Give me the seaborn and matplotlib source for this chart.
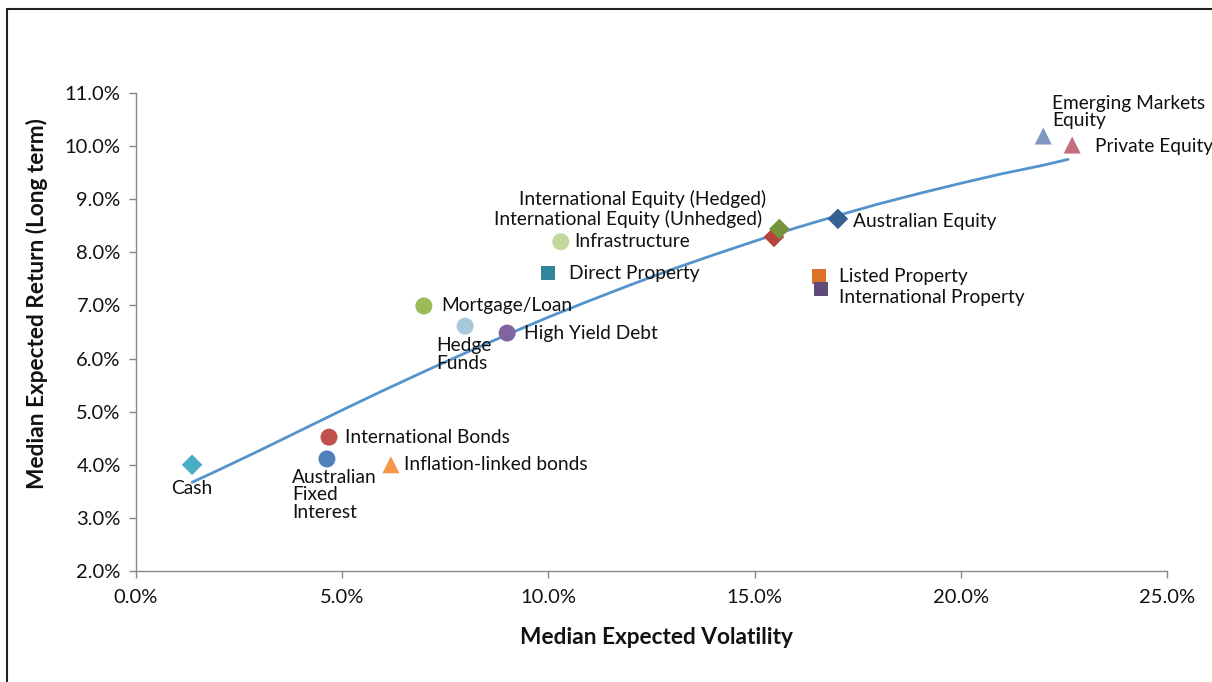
import numpy as np
import pandas as pd
import seaborn as sns
import matplotlib.pyplot as plt
from matplotlib.patches import Rectangle
from matplotlib.ticker import FuncFormatter, MultipleLocator


# asset classes: volatility (%), return (%)
assets = [
    'Cash', 'Australian Fixed Interest', 'International Bonds', 'Inflation-linked bonds',
    'Mortgage/Loan', 'Hedge Funds', 'High Yield Debt', 'Direct Property', 'Infrastructure',
    'International Equity (Unhedged)', 'International Equity (Hedged)', 'Australian Equity',
    'Listed Property', 'International Property', 'Emerging Markets Equity', 'Private Equity'
]
volatility = [1.36, 4.63, 4.68, 6.18, 6.98, 7.98, 9.0, 9.99, 10.3,
              15.47, 15.6, 17.02, 16.56, 16.61, 22.0, 22.7]
expected_return = [4.0, 4.11, 4.52, 4.0, 6.99, 6.61, 6.48, 7.61, 8.2,
                   8.29, 8.44, 8.63, 7.54, 7.31, 10.19, 10.02]
labels = ['Cash', 'Australian\nFixed\nInterest', 'International Bonds', 'Inflation-linked bonds',
          'Mortgage/Loan', 'Hedge\nFunds', 'High Yield Debt', 'Direct Property', 'Infrastructure',
          'International Equity (Unhedged)', 'International Equity (Hedged)', 'Australian Equity',
          'Listed Property', 'International Property', 'Emerging Markets\nEquity', 'Private Equity']

# frontier curve
curve_vol = [1.36, 2.0, 3.0, 4.0, 5.0, 6.0, 7.0, 8.0, 9.0, 10.0, 11.0, 12.0,
             13.0, 14.0, 15.0, 16.0, 17.0, 18.0, 19.0, 20.0, 21.0, 22.0, 22.6]
curve_ret = [3.67, 3.9, 4.27, 4.65, 5.03, 5.4, 5.76, 6.11, 6.45, 6.78, 7.09, 7.39,
             7.68, 7.95, 8.21, 8.46, 8.69, 8.91, 9.11, 9.3, 9.48, 9.64, 9.75]

colors = {
    'Cash': '#4bacc6', 'Australian Fixed Interest': '#4f81bd', 'International Bonds': '#c0504d',
    'Inflation-linked bonds': '#f79646', 'Mortgage/Loan': '#9bbb59', 'Hedge Funds': '#a5c8da',
    'High Yield Debt': '#8064a2', 'Direct Property': '#31859c', 'Infrastructure': '#c3d69b',
    'International Equity (Unhedged)': '#b5423d', 'International Equity (Hedged)': '#77933c',
    'Australian Equity': '#376092', 'Listed Property': '#dc7228', 'International Property': '#604a7b',
    'Emerging Markets Equity': '#7f96c0', 'Private Equity': '#c46e7e'
}
markers = {
    'Cash': 'D', 'Australian Fixed Interest': 'o', 'International Bonds': 'o',
    'Inflation-linked bonds': '^', 'Mortgage/Loan': 'o', 'Hedge Funds': 'o',
    'High Yield Debt': 'o', 'Direct Property': 's', 'Infrastructure': 'o',
    'International Equity (Unhedged)': 'D', 'International Equity (Hedged)': 'D',
    'Australian Equity': 'D', 'Listed Property': 's', 'International Property': 's',
    'Emerging Markets Equity': '^', 'Private Equity': '^'
}
sizes = {'o': 150, 'D': 110, 's': 110, '^': 150}

# label placement: offset in pixels, horizontal / vertical alignment
label_pos = {
    'Cash': (0, -15, 'center', 'top'),
    'Australian Fixed Interest': (-35, -10, 'left', 'top'),
    'International Bonds': (16, 0, 'left', 'center'),
    'Inflation-linked bonds': (13, 0, 'left', 'center'),
    'Mortgage/Loan': (17, 0, 'left', 'center'),
    'Hedge Funds': (-29, -11, 'left', 'top'),
    'High Yield Debt': (17, 0, 'left', 'center'),
    'Direct Property': (21, 0, 'left', 'center'),
    'Infrastructure': (13, 0, 'left', 'center'),
    'International Equity (Unhedged)': (-12, 18, 'right', 'center'),
    'International Equity (Hedged)': (-13, 30, 'right', 'center'),
    'Australian Equity': (15, -3, 'left', 'center'),
    'Listed Property': (20, 0, 'left', 'center'),
    'International Property': (18, -9, 'left', 'center'),
    'Emerging Markets Equity': (9, 24, 'left', 'center'),
    'Private Equity': (23, -1, 'left', 'center'),
}

df = pd.DataFrame({'asset': assets, 'vol': volatility, 'ret': expected_return, 'label': labels})
curve = pd.DataFrame({'vol': curve_vol, 'ret': curve_ret})

sns.set_theme(style='white')
plt.rcParams['font.family'] = ['Lato', 'DejaVu Sans']

fig = plt.figure(figsize=(12.12, 6.82), dpi=100)
ax = fig.add_axes([136 / 1212, 1 - 571 / 682, 1031 / 1212, 478 / 682])

fig.patches.append(Rectangle((7 / 1212, -0.05), 1.2, 1 - 9 / 682 + 0.05,
                             transform=fig.transFigure, fill=False,
                             edgecolor='#222222', linewidth=1.5))

sns.lineplot(data=curve, x='vol', y='ret', color='#5593cd', linewidth=2,
             ax=ax, sort=False, zorder=2)
sns.scatterplot(data=df, x='vol', y='ret', hue='asset', palette=colors,
                style='asset', markers=markers, size='asset',
                sizes={a: sizes[markers[a]] for a in assets},
                edgecolor='none', legend=False, ax=ax, zorder=3)

for _, row in df.iterrows():
    dx, dy, ha, va = label_pos[row['asset']]
    ax.annotate(row['label'], (row['vol'], row['ret']),
                xytext=(dx * 0.72, dy * 0.72), textcoords='offset points',
                ha=ha, va=va, fontsize=13.8, color='#111111', linespacing=1.03)

ax.set_xlim(0, 25)
ax.set_ylim(2, 11)
ax.xaxis.set_major_locator(MultipleLocator(5))
ax.yaxis.set_major_locator(MultipleLocator(1))
ax.xaxis.set_major_formatter(FuncFormatter(lambda v, p: f'{v:.1f}%'))
ax.yaxis.set_major_formatter(FuncFormatter(lambda v, p: f'{v:.1f}%'))

for side in ['top', 'right']:
    ax.spines[side].set_visible(False)
for side in ['left', 'bottom']:
    ax.spines[side].set_color('#888888')
    ax.spines[side].set_linewidth(1)
ax.tick_params(axis='both', which='major', direction='out', length=5, width=1,
               color='#888888', labelsize=14.5, labelcolor='#111111', pad=4)
ax.tick_params(axis='x', bottom=True, pad=8)
ax.tick_params(axis='y', left=True, pad=6)

ax.set_xlabel('Median Expected Volatility', fontsize=16.3, fontweight='bold', color='#111111')
ax.set_ylabel('Median Expected Return (Long term)', fontsize=16.3, fontweight='bold', color='#111111')
ax.xaxis.set_label_coords(0.505, -0.118)
ax.yaxis.set_label_coords(-0.085, 0.56)

fig.savefig('out.png', dpi=100)
